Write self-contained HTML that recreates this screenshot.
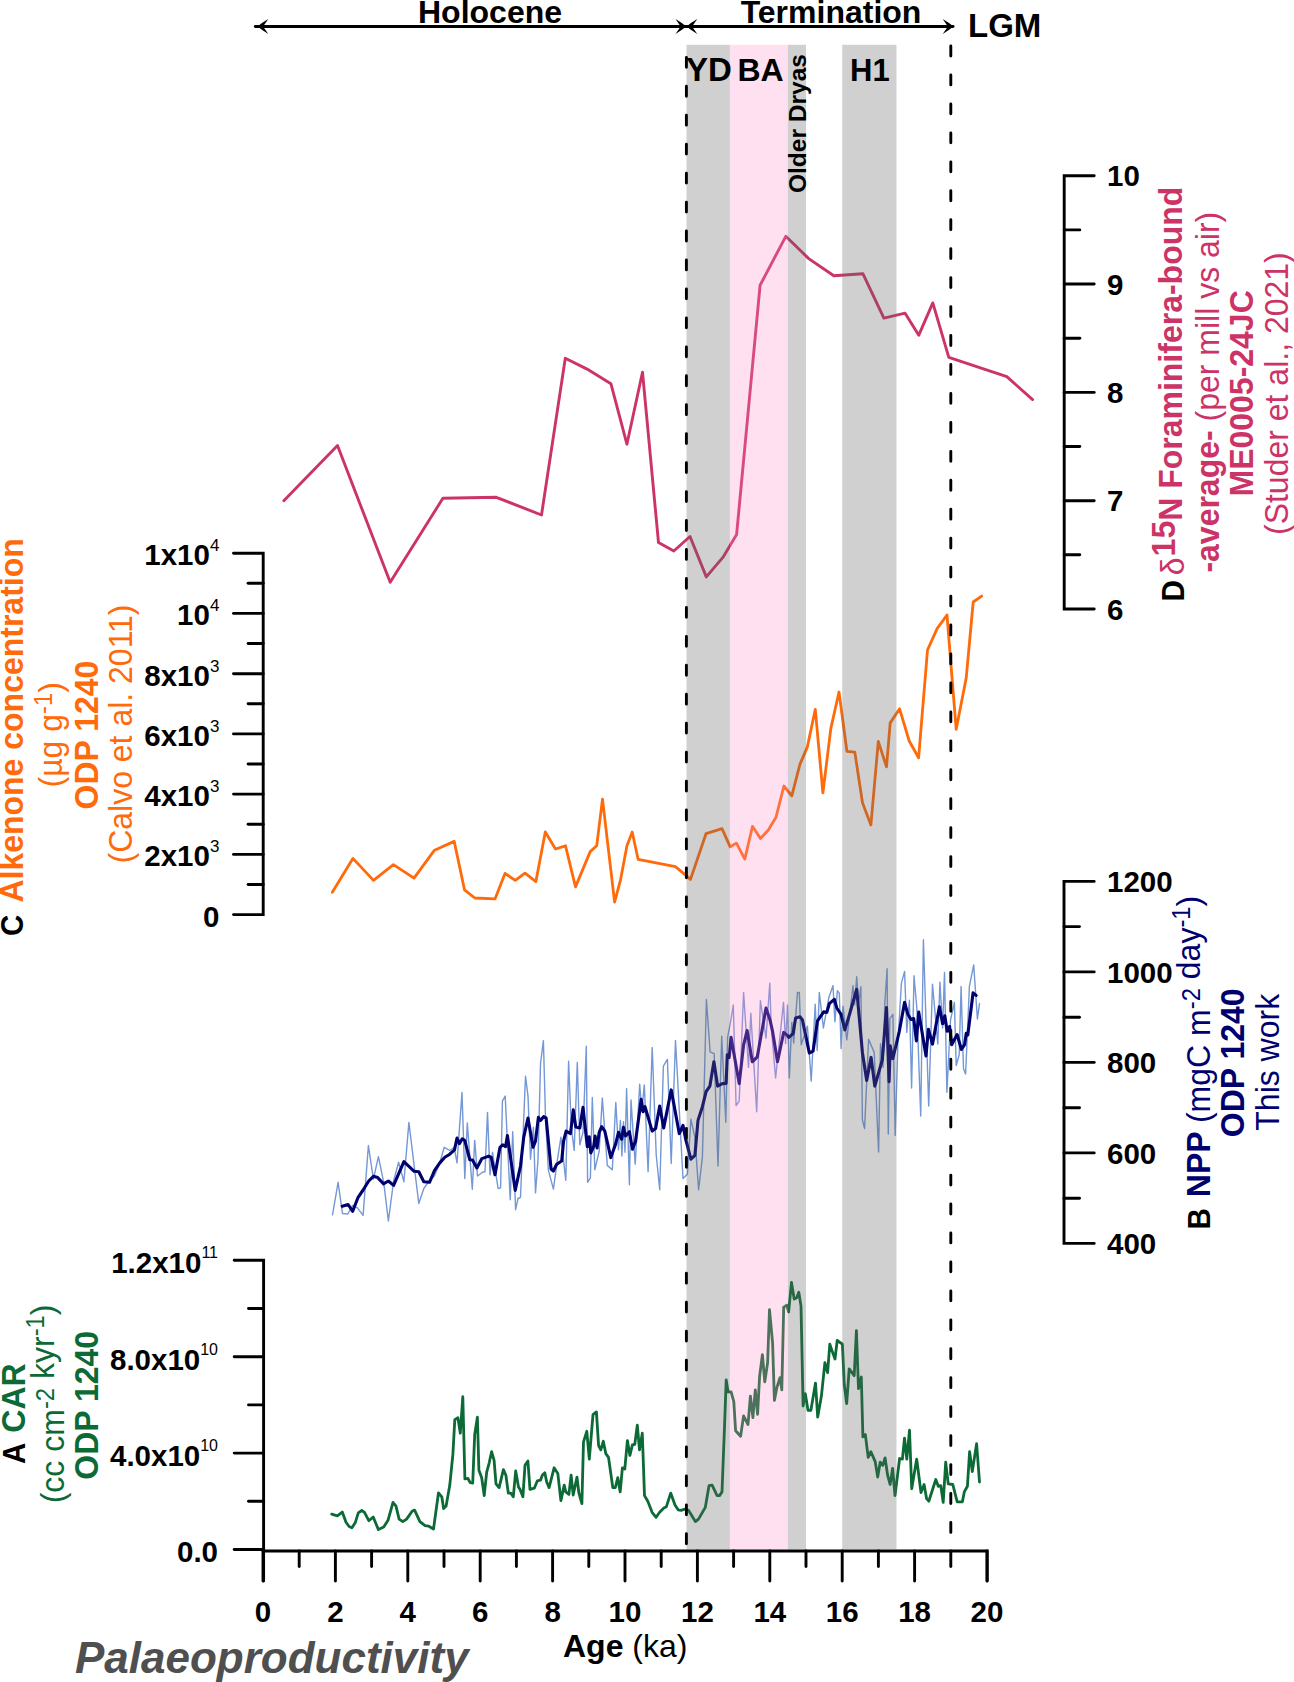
<!DOCTYPE html><html><head><meta charset="utf-8"><style>html,body{margin:0;padding:0;background:#fff;overflow:hidden;width:1294px;height:1682px;}svg{display:block;}text{font-family:"Liberation Sans",sans-serif;}</style></head><body>
<svg width="1294" height="1682" viewBox="0 0 1294 1682">
<rect width="1294" height="1682" fill="#fff"/>
<g fill="none" stroke-linejoin="round" stroke-linecap="round">
<polyline points="283.8,500.7 337.5,445.6 390.2,582.3 442.9,498.3 496.3,497.3 541.5,515.0 565.3,358.2 587.1,369.1 610.9,383.7 626.9,444.2 642.5,372.2 658.5,542.5 673.8,551.0 690.0,536.5 706.3,576.9 722.9,557.4 736.6,534.6 760.1,285.2 785.8,236.3 808.7,258.6 833.8,275.8 863.0,273.8 883.9,318.1 905.1,313.2 918.8,335.2 932.8,302.9 948.8,357.3 1006.8,376.7 1032.6,399.6" stroke="#cc3366" stroke-width="2.9"/>
<polyline points="332.3,892.2 352.9,858.4 373.5,880.4 393.4,864.6 414.0,878.1 434.5,850.2 454.2,841.4 464.5,889.8 474.8,898.0 495.0,898.9 505.0,873.4 515.3,880.4 525.0,873.1 535.9,881.6 545.3,832.0 555.5,849.0 565.5,845.8 575.5,886.9 590.2,851.6 596.7,845.8 602.5,799.1 614.6,902.1 620.4,880.4 626.9,846.0 632.2,832.0 638.1,859.3 675.4,866.6 685.6,875.1 690.5,879.4 706.0,833.7 722.0,828.7 730.2,846.8 736.4,843.1 744.8,859.1 752.5,826.3 760.4,838.6 768.3,830.0 775.9,817.6 783.9,786.0 791.8,795.8 799.9,764.4 807.3,747.1 815.3,709.3 822.9,792.9 830.8,728.6 839.0,692.0 846.9,751.3 854.8,752.1 862.5,802.8 870.9,825.0 878.3,741.4 886.5,766.9 890.2,722.9 899.6,708.8 909.2,741.0 918.6,757.8 927.5,650.0 937.1,628.6 947.0,615.0 948.8,637.9 956.2,729.3 966.2,678.1 973.2,602.0 981.6,596.1" stroke="#ff6a0a" stroke-width="2.8"/>
<polyline points="332.5,1214.8 338.1,1182.3 342.5,1213.5 347.7,1214.1 352.7,1205.4 357.4,1207.9 363.1,1215.4 368.4,1145.5 373.4,1179.2 378.4,1156.7 383.7,1182.3 388.4,1221.0 393.6,1181.0 398.6,1162.3 403.9,1181.7 408.9,1122.4 413.9,1163.6 418.8,1203.5 423.8,1188.5 429.2,1181.0 434.2,1176.1 439.2,1164.8 444.2,1147.3 449.8,1150.5 454.2,1147.3 457.0,1162.9 462.0,1092.4 464.8,1178.5 467.3,1123.0 472.3,1189.2 474.7,1140.4 477.5,1176.0 482.5,1172.3 485.0,1171.7 487.5,1112.4 490.0,1174.8 492.5,1152.3 498.1,1188.5 500.6,1187.9 502.4,1101.1 505.2,1096.1 510.2,1199.8 512.7,1131.7 515.6,1209.7 518.0,1198.5 520.5,1197.3 525.5,1076.2 528.0,1096.1 530.5,1159.2 533.4,1127.3 535.5,1192.9 538.0,1159.8 540.5,1063.7 543.4,1040.6 545.5,1117.4 548.4,1170.4 553.4,1189.1 557.4,1159.8 560.9,1137.3 565.8,1180.4 568.6,1061.2 571.3,1127.3 574.2,1150.4 577.3,1062.4 579.8,1144.8 583.0,1132.3 586.3,1046.2 587.6,1182.3 590.4,1177.9 592.3,1097.4 594.8,1169.8 599.2,1151.1 602.3,1098.0 607.3,1165.4 612.3,1169.8 615.8,1102.4 618.5,1149.8 620.4,1120.5 621.9,1156.0 623.5,1121.7 625.0,1152.3 626.6,1088.6 629.4,1184.7 631.0,1099.9 635.2,1164.1 639.7,1084.2 641.8,1111.1 644.3,1084.9 648.1,1171.6 652.2,1047.4 656.2,1154.8 659.7,1189.7 663.4,1066.1 667.4,1059.3 671.2,1163.5 675.5,1040.5 683.0,1178.5 687.4,1174.1 690.9,1119.2 694.9,1137.3 698.6,1189.7 702.4,1157.3 706.4,999.4 710.1,1051.8 714.2,1053.7 718.0,1166.0 721.7,1036.2 725.8,1122.3 727.6,1037.4 730.5,1022.4 733.3,1005.0 736.1,1105.5 739.2,1101.1 743.6,992.5 748.5,1067.4 750.8,1013.1 756.7,1111.7 760.4,1000.6 766.0,1038.1 769.8,983.1 771.2,1026.1 775.6,1078.0 783.5,1002.4 785.6,1043.6 787.5,1004.9 789.3,1078.0 791.8,1022.4 793.7,1043.0 797.5,992.4 799.3,992.4 801.2,1044.9 807.4,1026.1 811.2,1081.1 815.2,1004.3 817.2,1050.5 819.3,992.4 823.4,1028.0 828.7,998.1 833.0,985.6 834.9,1021.8 837.4,990.6 839.3,993.1 841.1,1048.6 843.0,1006.2 846.8,1039.9 853.0,985.6 854.6,1004.9 856.7,976.8 858.6,1003.7 860.9,986.8 862.4,1119.8 864.6,1128.5 868.6,1039.3 874.2,1052.4 878.6,1152.0 880.5,1043.6 883.0,1067.3 884.8,1003.7 887.1,968.7 888.3,1134.1 889.8,1018.7 892.9,1014.3 895.2,1135.4 897.9,1042.4 901.4,983.1 904.6,971.4 906.8,1032.4 909.4,1000.3 911.6,1088.0 914.0,975.7 916.9,1008.8 920.7,1116.0 923.4,939.8 928.7,1106.0 932.5,984.2 937.8,1044.1 939.9,982.1 942.6,1028.1 944.5,972.4 946.9,1092.3 950.5,1020.0 954.4,1002.4 956.2,1065.5 959.2,1054.8 961.1,986.4 963.5,1068.8 965.6,1074.1 969.4,986.4 973.7,964.9 977.4,1019.0 979.5,1003.5" stroke="#7497d6" stroke-width="1.4"/>
<polyline points="342.2,1206.3 348.1,1204.5 352.7,1211.3 358.1,1197.3 363.1,1190.0 368.7,1181.0 373.4,1176.3 377.7,1177.6 383.4,1183.8 388.4,1181.0 393.6,1185.4 403.9,1161.7 414.2,1171.3 418.8,1171.7 423.8,1181.7 429.5,1182.3 434.6,1170.4 439.8,1162.9 444.8,1157.3 449.8,1154.2 454.5,1149.8 457.0,1138.0 459.4,1143.6 462.3,1138.8 464.8,1140.5 469.8,1159.8 472.5,1160.0 476.9,1167.9 481.9,1158.6 488.7,1156.1 491.2,1157.3 495.0,1174.8 500.0,1147.3 502.7,1144.8 505.6,1146.7 507.4,1135.5 515.2,1190.4 520.5,1166.0 523.7,1137.3 528.0,1118.0 533.0,1147.3 535.5,1141.1 538.4,1117.4 540.5,1120.5 543.6,1116.7 546.1,1118.0 551.1,1169.2 553.4,1171.0 556.7,1164.2 561.7,1161.0 563.6,1141.1 566.1,1131.1 570.5,1133.6 573.3,1109.9 575.8,1127.1 579.8,1128.0 583.0,1107.4 587.3,1146.7 589.2,1136.7 590.8,1152.9 593.6,1146.7 595.1,1136.1 597.1,1147.9 599.2,1132.3 601.7,1126.7 604.8,1131.1 610.8,1157.6 615.4,1144.8 618.5,1132.3 621.6,1139.2 623.5,1127.3 625.6,1136.0 629.4,1131.7 632.5,1149.2 635.6,1141.0 641.2,1099.2 643.1,1111.7 645.0,1106.7 652.2,1131.1 655.6,1128.6 659.7,1106.1 663.7,1127.9 671.2,1089.9 679.3,1133.6 683.0,1125.4 685.5,1138.5 690.9,1159.2 694.9,1155.4 698.0,1120.4 702.4,1106.7 706.1,1091.7 709.9,1086.1 713.9,1061.8 717.6,1086.1 722.3,1083.6 726.1,1083.4 727.3,1054.9 729.2,1057.4 731.1,1037.4 739.2,1083.6 743.6,1044.9 747.1,1030.6 752.3,1061.8 757.3,1056.8 766.0,1008.1 770.0,1019.9 772.5,1031.1 777.5,1061.7 783.7,1032.4 786.8,1034.9 788.7,1037.4 793.1,1033.6 795.6,1018.0 800.0,1016.8 802.4,1019.9 809.3,1053.0 813.1,1051.1 817.4,1021.1 819.9,1017.4 823.7,1011.8 826.8,1012.4 829.3,1003.7 834.3,999.3 836.8,1008.0 841.1,1014.3 844.9,1029.9 849.9,1013.0 856.7,989.3 862.4,1052.4 866.7,1080.4 871.1,1057.4 874.8,1086.1 882.3,1059.9 886.5,1007.6 889.1,1081.6 890.2,1045.7 892.8,1058.6 899.3,1031.3 904.6,1002.4 907.8,1014.2 911.0,1019.5 913.7,1018.5 916.4,1040.9 918.7,1012.0 926.0,1055.9 928.4,1029.2 932.5,1044.1 939.4,1006.7 942.6,1023.8 944.8,1015.8 947.2,1031.3 949.6,1026.5 951.7,1044.7 957.1,1034.5 961.4,1049.5 964.6,1044.7 966.2,1033.4 967.8,1035.0 973.1,992.8 976.1,995.4" stroke="#00006e" stroke-width="3.1"/>
<polyline points="331.7,1514.2 337.3,1515.8 342.3,1512.1 346.0,1522.2 349.1,1526.5 351.9,1527.8 355.2,1522.8 358.3,1512.9 361.8,1510.5 364.5,1512.3 368.8,1520.7 373.2,1517.0 378.4,1529.6 383.7,1527.1 388.0,1520.3 393.0,1502.4 396.0,1506.1 399.1,1519.1 402.8,1521.6 406.6,1519.1 412.1,1511.3 414.6,1510.1 419.9,1521.6 425.1,1525.7 428.8,1526.2 433.5,1529.0 438.5,1492.8 441.8,1496.8 443.6,1508.6 446.1,1506.1 449.8,1485.1 452.9,1454.2 454.8,1419.6 457.9,1417.7 460.3,1433.2 462.8,1396.7 464.9,1478.9 467.8,1478.3 470.2,1482.6 472.7,1483.2 474.7,1434.4 477.4,1417.1 478.9,1470.3 481.7,1477.7 484.2,1495.6 486.7,1472.1 489.2,1462.8 491.6,1451.7 494.1,1460.4 496.0,1483.9 499.1,1487.6 503.4,1469.6 505.9,1475.2 508.3,1493.1 510.8,1493.1 513.3,1496.8 515.7,1470.9 518.5,1487.0 520.1,1489.4 522.9,1496.8 525.0,1465.3 527.9,1461.0 530.0,1489.4 534.3,1488.2 537.4,1480.8 540.5,1480.2 542.3,1475.2 544.8,1472.7 546.7,1482.0 549.1,1487.6 554.1,1467.8 557.8,1473.4 560.9,1500.6 564.2,1485.1 565.8,1491.9 568.9,1494.4 571.1,1475.2 573.2,1495.0 577.0,1477.1 578.8,1492.5 581.9,1503.6 583.5,1441.8 586.8,1431.3 589.3,1459.1 593.0,1414.6 596.4,1411.9 598.6,1445.5 600.8,1449.9 603.3,1441.2 605.8,1453.6 608.5,1457.3 612.8,1487.6 615.3,1487.6 617.8,1477.7 620.2,1491.9 622.4,1467.8 624.8,1469.0 627.4,1440.6 629.9,1455.4 632.4,1444.9 634.8,1444.3 637.3,1425.1 639.5,1449.9 642.3,1433.2 644.5,1495.6 647.8,1501.2 652.1,1512.3 656.1,1517.3 659.6,1512.3 663.9,1508.0 666.4,1506.7 670.7,1493.1 675.0,1504.9 678.1,1509.8 681.2,1510.4 684.3,1509.2 688.6,1510.4 691.7,1515.4 695.4,1521.6 698.5,1519.1 705.3,1507.4 709.0,1485.7 712.1,1485.1 717.1,1495.6 719.5,1495.6 722.0,1491.9 724.5,1427.0 726.2,1380.0 728.0,1391.8 731.1,1391.8 733.8,1401.7 735.6,1430.7 740.6,1436.3 743.6,1415.9 748.0,1424.5 750.4,1396.1 752.9,1417.7 755.3,1389.9 757.6,1414.3 759.6,1376.3 762.4,1354.7 764.8,1381.9 767.6,1362.7 769.5,1309.6 772.6,1343.0 774.4,1400.4 776.9,1387.5 780.0,1377.6 781.8,1389.9 783.7,1307.1 786.8,1305.2 788.6,1312.0 791.5,1282.4 794.2,1299.1 796.7,1297.8 798.8,1292.3 801.0,1305.9 803.1,1406.0 805.3,1393.6 808.0,1410.3 810.9,1410.3 815.5,1383.1 817.7,1417.1 821.4,1396.1 824.9,1362.7 827.6,1372.6 829.8,1344.2 831.9,1350.4 835.0,1359.0 837.2,1340.5 842.4,1344.2 844.3,1385.0 846.7,1403.5 849.2,1368.9 854.2,1375.7 856.4,1330.6 858.5,1388.7 861.3,1377.0 862.9,1436.9 865.3,1434.4 868.2,1457.3 870.9,1451.7 875.2,1461.6 877.7,1477.1 880.2,1462.2 882.7,1465.3 885.1,1457.9 887.6,1475.2 890.1,1484.5 892.6,1468.4 895.0,1495.6 899.6,1458.5 902.4,1459.1 904.5,1438.1 906.8,1459.1 909.5,1430.1 911.7,1488.8 916.7,1459.1 921.0,1492.5 924.1,1484.5 926.6,1498.7 928.8,1501.2 935.8,1479.5 938.3,1486.3 940.8,1485.7 943.2,1502.4 945.7,1462.2 948.2,1483.9 952.8,1484.5 957.2,1501.8 962.4,1501.8 964.3,1491.9 967.4,1486.3 969.6,1451.7 972.3,1471.5 976.6,1443.7 979.5,1482.0" stroke="#0b6a35" stroke-width="2.8"/>
</g>
<rect x="686.5" y="44.8" width="43.4" height="1504.7" fill="#636363" fill-opacity="0.302"/>
<rect x="730.0" y="44.8" width="57.9" height="1504.7" fill="#ff8ac6" fill-opacity="0.265"/>
<rect x="787.9" y="44.8" width="18.1" height="1504.7" fill="#636363" fill-opacity="0.302"/>
<rect x="842.2" y="44.8" width="54.3" height="1504.7" fill="#636363" fill-opacity="0.302"/>
<g stroke="#000" stroke-width="2.9" stroke-linecap="round" stroke-dasharray="9.9 19.05">
<line x1="686.4" y1="57.35" x2="686.4" y2="1549"/>
<line x1="950.8" y1="46.05" x2="950.8" y2="1549"/>
</g>
<g stroke="#000" stroke-width="2.8" fill="none"><line x1="255.3" y1="26.5" x2="953.1" y2="26.5" stroke-linecap="round"/></g>
<path d="M257.5 26.5 Q262.5 22.5 268.3 19.1 L263.1 26.5 L268.3 33.9 Q262.5 30.5 257.5 26.5Z" fill="#000"/>
<path d="M686.3 26.5 Q681.3 22.5 675.5 19.1 L680.7 26.5 L675.5 33.9 Q681.3 30.5 686.3 26.5Z" fill="#000"/>
<path d="M686.5 26.5 Q691.5 22.5 697.3 19.1 L692.1 26.5 L697.3 33.9 Q691.5 30.5 686.5 26.5Z" fill="#000"/>
<path d="M953.5 26.5 Q948.5 22.5 942.7 19.1 L947.9 26.5 L942.7 33.9 Q948.5 30.5 953.5 26.5Z" fill="#000"/>
<g stroke="#000" stroke-width="2.9" fill="none" stroke-linecap="round" stroke-linejoin="miter">
<path d="M263 1551 H987.2 V1581"/>
<line x1="263.0" y1="1551" x2="263.0" y2="1581"/>
<line x1="299.2" y1="1551" x2="299.2" y2="1566.5"/>
<line x1="335.4" y1="1551" x2="335.4" y2="1581"/>
<line x1="371.6" y1="1551" x2="371.6" y2="1566.5"/>
<line x1="407.8" y1="1551" x2="407.8" y2="1581"/>
<line x1="444.0" y1="1551" x2="444.0" y2="1566.5"/>
<line x1="480.2" y1="1551" x2="480.2" y2="1581"/>
<line x1="516.4" y1="1551" x2="516.4" y2="1566.5"/>
<line x1="552.6" y1="1551" x2="552.6" y2="1581"/>
<line x1="588.8" y1="1551" x2="588.8" y2="1566.5"/>
<line x1="625.0" y1="1551" x2="625.0" y2="1581"/>
<line x1="661.2" y1="1551" x2="661.2" y2="1566.5"/>
<line x1="697.4" y1="1551" x2="697.4" y2="1581"/>
<line x1="733.6" y1="1551" x2="733.6" y2="1566.5"/>
<line x1="769.8" y1="1551" x2="769.8" y2="1581"/>
<line x1="806.0" y1="1551" x2="806.0" y2="1566.5"/>
<line x1="842.2" y1="1551" x2="842.2" y2="1581"/>
<line x1="878.4" y1="1551" x2="878.4" y2="1566.5"/>
<line x1="914.6" y1="1551" x2="914.6" y2="1581"/>
<line x1="950.8" y1="1551" x2="950.8" y2="1566.5"/>
<line x1="987.0" y1="1551" x2="987.0" y2="1581"/>
<path d="M234.2 1260.3 H263.6 V1581"/>
<line x1="234.2" y1="1549.5" x2="263.6" y2="1549.5"/>
<line x1="248.5" y1="1501.3" x2="263.6" y2="1501.3"/>
<line x1="234.2" y1="1453.1" x2="263.6" y2="1453.1"/>
<line x1="248.5" y1="1404.9" x2="263.6" y2="1404.9"/>
<line x1="234.2" y1="1356.7" x2="263.6" y2="1356.7"/>
<line x1="248.5" y1="1308.5" x2="263.6" y2="1308.5"/>
<path d="M233.5 553.2 H263.2 V914.6 H233.5"/>
<line x1="248.1" y1="884.5" x2="263.2" y2="884.5"/>
<line x1="233.5" y1="854.4" x2="263.2" y2="854.4"/>
<line x1="248.1" y1="824.2" x2="263.2" y2="824.2"/>
<line x1="233.5" y1="794.1" x2="263.2" y2="794.1"/>
<line x1="248.1" y1="764.0" x2="263.2" y2="764.0"/>
<line x1="233.5" y1="733.9" x2="263.2" y2="733.9"/>
<line x1="248.1" y1="703.8" x2="263.2" y2="703.8"/>
<line x1="233.5" y1="673.7" x2="263.2" y2="673.7"/>
<line x1="248.1" y1="643.5" x2="263.2" y2="643.5"/>
<line x1="233.5" y1="613.4" x2="263.2" y2="613.4"/>
<line x1="248.1" y1="583.3" x2="263.2" y2="583.3"/>
<path d="M1094.2 175.7 H1064.2 V609.0 H1094.2"/>
<line x1="1064.2" y1="554.8" x2="1079.8" y2="554.8"/>
<line x1="1064.2" y1="500.7" x2="1094.2" y2="500.7"/>
<line x1="1064.2" y1="446.5" x2="1079.8" y2="446.5"/>
<line x1="1064.2" y1="392.4" x2="1094.2" y2="392.4"/>
<line x1="1064.2" y1="338.2" x2="1079.8" y2="338.2"/>
<line x1="1064.2" y1="284.0" x2="1094.2" y2="284.0"/>
<line x1="1064.2" y1="229.9" x2="1079.8" y2="229.9"/>
<path d="M1094.2 881.4 H1064.0 V1243.4 H1094.2"/>
<line x1="1064.0" y1="1198.2" x2="1079.5" y2="1198.2"/>
<line x1="1064.0" y1="1152.9" x2="1094.2" y2="1152.9"/>
<line x1="1064.0" y1="1107.7" x2="1079.5" y2="1107.7"/>
<line x1="1064.0" y1="1062.4" x2="1094.2" y2="1062.4"/>
<line x1="1064.0" y1="1017.2" x2="1079.5" y2="1017.2"/>
<line x1="1064.0" y1="971.9" x2="1094.2" y2="971.9"/>
<line x1="1064.0" y1="926.6" x2="1079.5" y2="926.6"/>
</g>
<g font-weight="bold" font-size="29.5" fill="#000">
<text x="263.0" y="1621.5" text-anchor="middle">0</text>
<text x="335.4" y="1621.5" text-anchor="middle">2</text>
<text x="407.8" y="1621.5" text-anchor="middle">4</text>
<text x="480.2" y="1621.5" text-anchor="middle">6</text>
<text x="552.6" y="1621.5" text-anchor="middle">8</text>
<text x="625.0" y="1621.5" text-anchor="middle">10</text>
<text x="697.4" y="1621.5" text-anchor="middle">12</text>
<text x="769.8" y="1621.5" text-anchor="middle">14</text>
<text x="842.2" y="1621.5" text-anchor="middle">16</text>
<text x="914.6" y="1621.5" text-anchor="middle">18</text>
<text x="987.0" y="1621.5" text-anchor="middle">20</text>
<text x="218" y="1562.4" text-anchor="end">0.0</text>
<text x="218" y="1466.0" text-anchor="end">4.0x10<tspan font-weight="normal" font-size="16" dy="-15">10</tspan></text>
<text x="218" y="1369.6" text-anchor="end">8.0x10<tspan font-weight="normal" font-size="16" dy="-15">10</tspan></text>
<text x="218" y="1273.2" text-anchor="end">1.2x10<tspan font-weight="normal" font-size="16" dy="-15">11</tspan></text>
<text x="219.4" y="926.6" text-anchor="end">0</text>
<text x="219.4" y="866.4" text-anchor="end">2x10<tspan font-weight="normal" font-size="17" dy="-14">3</tspan></text>
<text x="219.4" y="806.1" text-anchor="end">4x10<tspan font-weight="normal" font-size="17" dy="-14">3</tspan></text>
<text x="219.4" y="745.9" text-anchor="end">6x10<tspan font-weight="normal" font-size="17" dy="-14">3</tspan></text>
<text x="219.4" y="685.7" text-anchor="end">8x10<tspan font-weight="normal" font-size="17" dy="-14">3</tspan></text>
<text x="219.4" y="625.4" text-anchor="end">10<tspan font-weight="normal" font-size="17" dy="-14">4</tspan></text>
<text x="219.4" y="565.2" text-anchor="end">1x10<tspan font-weight="normal" font-size="17" dy="-14">4</tspan></text>
<text x="1107" y="619.6">6</text>
<text x="1107" y="511.3">7</text>
<text x="1107" y="403.0">8</text>
<text x="1107" y="294.6">9</text>
<text x="1107" y="186.3">10</text>
<text x="1107" y="1254.0">400</text>
<text x="1107" y="1163.5">600</text>
<text x="1107" y="1073.0">800</text>
<text x="1107" y="982.5">1000</text>
<text x="1107" y="892.0">1200</text>
</g>
<g font-weight="bold" fill="#000">
<text x="490" y="23" font-size="32" text-anchor="middle">Holocene</text>
<text x="831" y="23" font-size="32" text-anchor="middle">Termination</text>
<text x="968" y="37.3" font-size="33">LGM</text>
<text x="686" y="81" font-size="33">YD</text>
<text x="737.5" y="81" font-size="32">BA</text>
<text x="850" y="81" font-size="31">H1</text>
<text transform="translate(805.7,193) rotate(-90)" font-size="24.5">Older Dryas</text>
</g>
<text transform="translate(1184.0,601.6) rotate(-90) scale(0.955,1)" font-size="33.5"><tspan font-weight="bold" fill="#000" font-size="31">D</tspan><tspan fill="#cc3366" dx="5.3">δ</tspan><tspan fill="#cc3366" font-weight="bold" dx="1" dy="-9.5">15</tspan><tspan fill="#cc3366" font-weight="bold" dy="7.5">N Foraminifera-bound</tspan></text>
<text transform="translate(1218.5,572.6) rotate(-90) scale(0.955,1)" font-size="33.5"><tspan fill="#cc3366" font-weight="bold">-average- </tspan><tspan fill="#cc3366">(per mill vs air)</tspan></text>
<text transform="translate(1252.5,496.5) rotate(-90) scale(0.955,1)" font-size="33.5"><tspan fill="#cc3366" font-weight="bold">ME0005-24JC</tspan></text>
<text transform="translate(1287.6,535.0) rotate(-90) scale(0.955,1)" font-size="33.5"><tspan fill="#cc3366">(Studer et al., 2021)</tspan></text>
<text transform="translate(23.0,936.0) rotate(-90) scale(0.955,1)" font-size="33.5"><tspan font-weight="bold" fill="#000" font-size="31">C </tspan><tspan fill="#ff6a0a" font-weight="bold" dx="4">Alkenone concentration</tspan></text>
<text transform="translate(61.5,787.5) rotate(-90) scale(0.955,1)" font-size="33.5"><tspan fill="#ff6a0a">(µg g<tspan font-size="25" dy="-10">-1</tspan><tspan dy="10">)</tspan></tspan></text>
<text transform="translate(97.9,809.5) rotate(-90) scale(0.955,1)" font-size="33.5"><tspan fill="#ff6a0a" font-weight="bold">ODP 1240</tspan></text>
<text transform="translate(132.0,863.5) rotate(-90) scale(0.955,1)" font-size="33.5"><tspan fill="#ff6a0a">(Calvo et al. 2011)</tspan></text>
<text transform="translate(1209.8,1229.6) rotate(-90) scale(0.955,1)" font-size="33.5"><tspan font-weight="bold" fill="#000" font-size="31">B </tspan><tspan fill="#00006e" font-weight="bold" dx="3">NPP </tspan><tspan fill="#00006e">(mgC m<tspan font-size="25" dy="-10">-2</tspan><tspan dy="10"></tspan> day<tspan font-size="25" dy="-10">-1</tspan><tspan dy="10">)</tspan></tspan></text>
<text transform="translate(1243.8,1137.2) rotate(-90) scale(0.955,1)" font-size="33.5"><tspan fill="#00006e" font-weight="bold">ODP 1240</tspan></text>
<text transform="translate(1278.6,1130.7) rotate(-90) scale(0.955,1)" font-size="33.5"><tspan fill="#00006e">This work</tspan></text>
<text transform="translate(24.9,1464.0) rotate(-90) scale(0.955,1)" font-size="33.5"><tspan font-weight="bold" fill="#000" font-size="31">A </tspan><tspan fill="#0b6a35" font-weight="bold" dx="3">CAR</tspan></text>
<text transform="translate(63.5,1503.3) rotate(-90) scale(0.955,1)" font-size="33.5"><tspan fill="#0b6a35">(cc cm<tspan font-size="25" dy="-10">-2</tspan><tspan dy="10"></tspan> kyr<tspan font-size="25" dy="-10">-1</tspan><tspan dy="10">)</tspan></tspan></text>
<text transform="translate(97.5,1479.7) rotate(-90) scale(0.955,1)" font-size="33.5"><tspan fill="#0b6a35" font-weight="bold">ODP 1240</tspan></text>
<text x="563" y="1657" font-size="32"><tspan font-weight="bold">Age</tspan> (ka)</text>
<text x="75" y="1673" font-size="44" font-weight="bold" font-style="italic" fill="#4f4f4f">Palaeoproductivity</text>
</svg></body></html>
